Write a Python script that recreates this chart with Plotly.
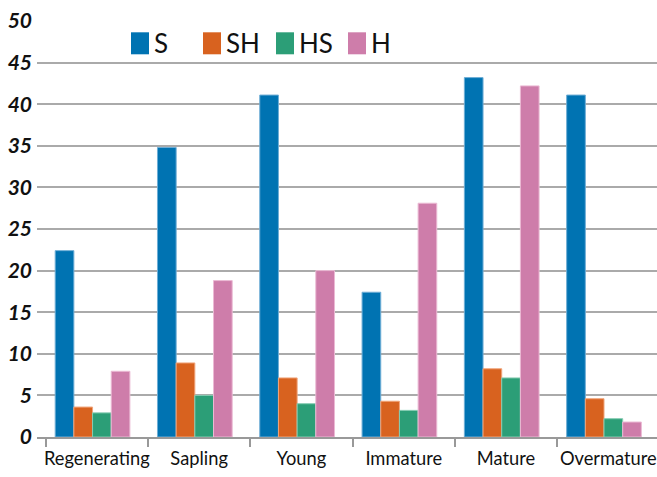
import plotly.graph_objects as go

# Stand development stages and the share (%) of each group within them
stages = ["Regenerating", "Sapling", "Young", "Immature", "Mature", "Overmature"]
series_names = ["S", "SH", "HS", "H"]
s_vals = [22.4, 34.8, 41.1, 17.4, 43.2, 41.1]
sh_vals = [3.6, 8.9, 7.1, 4.3, 8.2, 4.6]
hs_vals = [2.9, 5.0, 4.0, 3.2, 7.1, 2.2]
h_vals = [7.9, 18.8, 20.0, 28.1, 42.2, 1.8]
y_ticks = [0, 5, 10, 15, 20, 25, 30, 35, 40, 45, 50]

colors = ["#0073B2", "#D8621F", "#2C9E77", "#CE7DAA"]
edges = ["#6FAED6", "#F0A57B", "#86CCB2", "#EBBAD4"]

W, H = 657, 477
M_L, M_R, M_T, M_B = 37, 0, 20.7, 40.3
plot_w = W - M_L - M_R
plot_h = H - M_T - M_B

# each group of four bars fills 73% of its category slot, nudged slightly left
bar_w = 0.1826
group_start = -2 * bar_w - 0.042

fig = go.Figure()
for i, (name, vals, c, e) in enumerate(zip(series_names, [s_vals, sh_vals, hs_vals, h_vals], colors, edges)):
    fig.add_trace(go.Bar(
        x=stages, y=vals, name=name,
        width=bar_w, offset=group_start + i * bar_w,
        marker=dict(color=c, line=dict(color=e, width=1)),
        showlegend=False,
    ))

# Legend drawn as coloured squares with labels above the bars
legend_x = [131, 203, 276, 348]
sq_w, sq_top, sq_bot = 18, 32, 54
for lx, name, c in zip(legend_x, series_names, colors):
    x0 = (lx - M_L) / plot_w
    x1 = (lx + sq_w - M_L) / plot_w
    y0 = (H - M_B - sq_bot) / plot_h
    y1 = (H - M_B - sq_top) / plot_h
    fig.add_shape(type="rect", xref="paper", yref="paper",
                  x0=x0, x1=x1, y0=y0, y1=y1,
                  fillcolor=c, line=dict(width=0), layer="above")
    fig.add_annotation(xref="paper", yref="paper",
                       x=(lx + sq_w + 3 - M_L) / plot_w,
                       y=(H - M_B - (sq_top + sq_bot) / 2) / plot_h,
                       text=name, showarrow=False, xanchor="left", yanchor="middle",
                       font=dict(family="Lato, Open Sans, sans-serif", size=26, color="#111111"))

fig.update_layout(
    width=W, height=H,
    margin=dict(l=M_L, r=M_R, t=M_T, b=M_B, pad=0, autoexpand=False),
    paper_bgcolor="white", plot_bgcolor="white",
    barmode="overlay",
    xaxis=dict(
        type="category", range=[-0.585, 5.476], automargin=False, tickangle=0,
        tickson="boundaries", ticks="outside", ticklen=8, tickwidth=1.5, tickcolor="#999999",
        showline=True, linecolor="#999999", linewidth=2,
        showgrid=False, ticklabelstandoff=4,
        tickfont=dict(family="Lato, sans-serif", size=18.3, color="#111111"),
    ),
    yaxis=dict(
        range=[0, 50], tickvals=y_ticks, ticktext=[f"<b><i>{v}</i></b>" for v in y_ticks],
        showgrid=True, gridcolor="#AAAAAA", gridwidth=1.5, automargin=False,
        zeroline=False, showline=False, ticks="", ticklabelstandoff=4,
        tickfont=dict(family="Lato, sans-serif", size=21, color="#111111"),
    ),
)

fig.write_html("out.html")
